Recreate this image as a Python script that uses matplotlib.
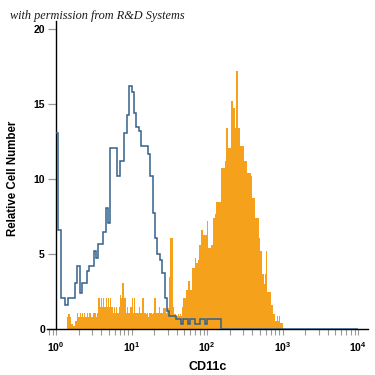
import numpy as np
import matplotlib
matplotlib.use("Agg")
import matplotlib.pyplot as plt
from matplotlib.ticker import FixedLocator, FixedFormatter, LogLocator, NullFormatter

plt.rcParams['font.family'] = ['Liberation Sans', 'DejaVu Sans']
plt.rcParams['mathtext.fontset'] = 'custom'
plt.rcParams['mathtext.rm'] = 'Liberation Sans'
plt.rcParams['mathtext.bf'] = 'Liberation Sans:bold'

# ---- data ----
# isotype control histogram, 32 channels per decade starting at 10^0
control_counts = [
    13.1, 6.6, 2.1, 2.1, 1.6, 2.1, 2.1, 2.1, 3.1, 4.2,
    2.4, 3.1, 3.1, 3.9, 4.2, 4.2, 5.2, 4.75, 5.7, 5.7,
    6.5, 8.1, 7.1, 12.1, 12.1, 12.1, 10.2, 11.2, 11.2, 13.1,
    14.3, 16.2, 15.8, 14.4, 13.5, 13.2, 12.2, 12.2, 12.2, 11.7,
    10.2, 7.75, 6.1, 5.0, 4.6, 3.75, 2.1, 1.2, 0.87, 0.87,
    0.87, 0.67, 0.67, 0.33, 0.67, 0.67, 0.33, 0.67, 0.67, 0.33,
    0.33, 0.67, 0.67, 0.33, 0.67, 0.67, 0.67, 0.67, 0.67, 0.67,
] + [0.0] * 58

# CD11c stained histogram, 64 channels per decade starting at 10^0
cd11c_counts = [
    0, 0, 0, 0, 0, 0, 0, 0, 0, 0.8,
    1.0, 1.0, 0.8, 0.33, 0.2, 0.2, 0.53, 0.53, 1.1, 0.8,
    1.1, 0.8, 1.1, 0.8, 1.1, 0.8, 1.1, 0.8, 1.1, 1.1,
    0.8, 1.1, 1.1, 1.1, 0.8, 1.1, 2.1, 1.5, 2.1, 1.5,
    2.1, 1.5, 2.1, 1.5, 2.1, 1.5, 2.1, 1.5, 1.1, 1.5,
    1.1, 1.5, 1.1, 1.5, 2.3, 2.1, 3.1, 3.1, 2.1, 1.1,
    1.5, 1.1, 1.1, 1.5, 2.1, 1.1, 2.1, 1.1, 1.1, 1.1,
    1.5, 1.1, 1.1, 2.1, 2.1, 1.1, 1.0, 1.1, 0.8, 1.1,
    1.1, 1.0, 1.1, 2.1, 2.1, 1.1, 1.1, 1.5, 1.1, 1.1,
    1.1, 1.4, 1.4, 1.1, 1.4, 1.4, 3.5, 6.1, 6.1, 1.5,
    1.0, 1.0, 0.87, 1.0, 0.87, 1.0, 0.87, 1.5, 2.1, 2.1,
    2.65, 2.65, 3.2, 3.2, 2.6, 4.1, 4.1, 4.1, 4.75, 4.4,
    4.6, 5.6, 5.6, 6.6, 6.6, 6.3, 6.3, 6.3, 7.2, 5.4,
    5.4, 5.6, 5.6, 7.4, 7.4, 7.7, 8.5, 8.5, 8.5, 8.5,
    10.75, 10.75, 10.75, 11.2, 13.4, 13.4, 12.1, 12.1, 15.2, 15.2,
    14.75, 14.75, 13.4, 17.2, 13.4, 13.4, 12.2, 12.2, 12.2, 11.2,
    11.2, 11.2, 10.4, 10.4, 10.4, 10.2, 8.75, 8.75, 8.75, 7.4,
    7.4, 7.4, 6.1, 5.2, 5.2, 3.7, 3.0, 3.7, 5.2, 2.5,
    2.5, 2.5, 1.65, 1.65, 1.0, 1.0, 0.53, 0.9, 0.53, 0.9,
    0.4, 0.4,
]

control_per_decade = 32
cd11c_per_decade = 64

x_ticks = [1, 10, 100, 1000, 10000]
x_tick_labels = [r'$\mathbf{10^{0}}$', r'$\mathbf{10^{1}}$', r'$\mathbf{10^{2}}$',
                 r'$\mathbf{10^{3}}$', r'$\mathbf{10^{4}}$']
y_ticks = [0, 5, 10, 15, 20]
y_tick_labels = ['0', '5', '10', '15', '20']

# ---- figure ----
fig = plt.figure(figsize=(3.75, 3.75), dpi=100)
ax = fig.add_axes([47 / 375, 45.7 / 375, 321 / 375, 308.6 / 375])
ax.set_xscale('log')
ax.set_xlim(10 ** (-9 / 75.5), 10 ** (312 / 75.5))
ax.set_ylim(0, 20.57)

ctrl_edges = 10 ** (np.arange(len(control_counts) + 1) / control_per_decade)
cd_edges = 10 ** (np.arange(len(cd11c_counts) + 1) / cd11c_per_decade)

ax.stairs(cd11c_counts, cd_edges, fill=True, color='#F6A11C', zorder=2, lw=0)
ax.stairs(control_counts, ctrl_edges, color='#34618c', lw=1.1, zorder=3,
          baseline=None)

for s in ['top', 'right']:
    ax.spines[s].set_visible(False)
ax.spines['left'].set_position(('data', 1))
ax.spines['left'].set_linewidth(1.0)
ax.spines['bottom'].set_linewidth(1.0)

ax.xaxis.set_major_locator(FixedLocator(x_ticks))
ax.xaxis.set_major_formatter(FixedFormatter(x_tick_labels))
ax.xaxis.set_minor_locator(LogLocator(base=10, subs=np.arange(2, 10)))
ax.xaxis.set_minor_formatter(NullFormatter())
ax.tick_params(axis='x', which='both', direction='out', length=4, width=0.8,
               color='#9a9a9a', labelsize=7.5, pad=4)
ax.yaxis.set_major_locator(FixedLocator(y_ticks))
ax.yaxis.set_major_formatter(FixedFormatter(y_tick_labels))
ax.tick_params(axis='y', direction='out', length=6, width=0.9, color='#9a9a9a',
               labelsize=7.5, pad=2)
for lab in ax.get_yticklabels():
    lab.set_fontweight('bold')

ax.set_xlabel('CD11c', fontsize=9, fontweight='bold', labelpad=5)
ax.set_ylabel('Relative Cell Number', fontsize=8.3, fontweight='bold')
ax.yaxis.set_label_coords(-0.088, 0.49)

fig.text(10 / 375, 1 - 16 / 375, 'with permission from R&D Systems',
         fontsize=8.8, style='italic', family='Liberation Serif',
         color='#1a1a1a', va='center', ha='left')

fig.savefig('out.png', dpi=100)
